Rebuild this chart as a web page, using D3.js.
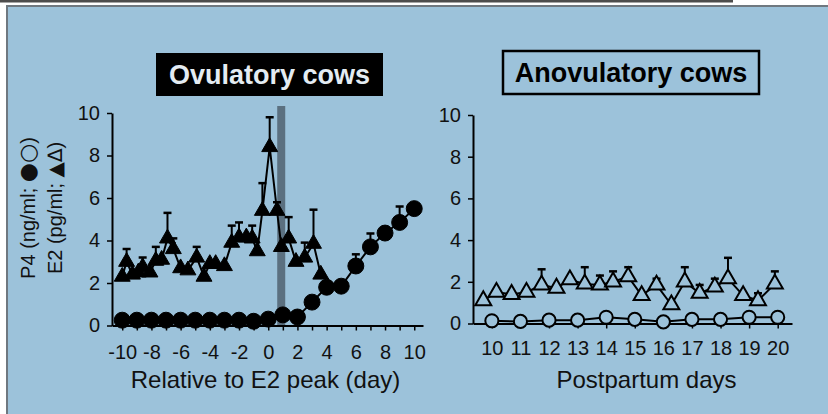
<!DOCTYPE html>
<html>
<head>
<meta charset="utf-8">
<script src="https://cdn.jsdelivr.net/npm/d3@7"></script>
<style>
	body { margin: 0; background: #fff; }
	svg text { font-family: "Liberation Sans", Arial, sans-serif; }
</style>
</head>
<body>
<div class="container"></div>
<script>
// ovulatory cows: P4 (filled circles) and E2 (filled triangles)
var ovuP4Days = [-10, -9, -8, -7, -6, -5, -4, -3, -2, -1, 0, 1, 2, 3, 4, 5, 6, 7, 8, 9, 10];
var ovuP4 = [0.25, 0.25, 0.25, 0.25, 0.25, 0.25, 0.25, 0.25, 0.25, 0.2, 0.3, 0.5, 0.4, 1.1, 1.8, 1.85, 2.8, 3.7, 4.35, 4.85, 5.5];
var ovuP4Err = [null, null, null, null, null, null, null, null, null, null, null, null, null, null, null, null, 3.35, 4.33, null, 5.6, null];

var ovuE2Days = [-10, -9.7, -9.3, -8.9, -8.6, -8.1, -7.7, -7.3, -6.9, -6.5, -6.0, -5.5, -4.9, -4.4, -4.0, -3.6, -3.0, -2.5, -2.0, -1.5, -1.1, -0.75, -0.4, 0.1, 0.6, 0.9, 1.4, 1.9, 2.5, 3.1, 3.6];
var ovuE2 = [2.3, 3.0, 2.4, 2.5, 2.75, 2.5, 3.05, 3.1, 4.1, 3.6, 2.7, 2.6, 3.2, 2.3, 2.9, 2.9, 2.8, 3.9, 4.15, 4.15, 4.1, 3.5, 5.4, 8.4, 5.4, 3.7, 4.1, 3.0, 3.2, 3.85, 2.4];
var ovuE2Err = [null, 3.6, null, null, 3.2, null, 3.7, null, 5.3, 4.1, null, null, 3.7, null, null, null, null, 4.7, 4.85, null, 4.7, null, 6.7, 9.8, 5.8, null, 5.1, null, 3.9, 5.45, null];

var ovulationDay = 0.89;
var ovuTicks = [-10, -9, -8, -7, -6, -5, -4, -3, -2, -1, 0, 1, 2, 3, 4, 5, 6, 7, 8, 9, 10];
var ovuTickLabels = [-10, -8, -6, -4, -2, 0, 2, 4, 6, 8, 10];

// anovulatory cows: P4 (open circles) and E2 (open triangles)
var anoP4Days = [10, 11, 12, 13, 14, 15, 16, 17, 18, 19, 20];
var anoP4 = [0.13, 0.1, 0.16, 0.16, 0.3, 0.2, 0.08, 0.2, 0.2, 0.3, 0.3];

var anoE2Days = [9.7, 10.16, 10.69, 11.21, 11.74, 12.26, 12.73, 13.25, 13.78, 14.24, 14.77, 15.24, 15.76, 16.28, 16.75, 17.27, 17.8, 18.26, 18.79, 19.31, 19.9];
var anoE2 = [1.1, 1.5, 1.4, 1.5, 1.85, 1.7, 2.1, 1.9, 1.85, 2.0, 2.25, 1.35, 1.85, 0.9, 2.0, 1.45, 1.75, 2.15, 1.35, 1.1, 1.9];
var anoE2Err = [null, null, null, null, 2.6, null, null, 2.7, 2.3, 2.5, 2.7, null, 2.15, null, 2.7, 1.85, 2.15, 3.15, null, 1.45, 2.5];

var anoTicks = [10, 11, 12, 13, 14, 15, 16, 17, 18, 19, 20];

var yTicks = [0, 2, 4, 6, 8, 10];

var bg = "#9cc2da";

var svg = d3.select('.container').append("svg")
	.attr("width", 828)
	.attr("height", 414);

// frame of the slide
svg.append("rect").attr("x", 0).attr("y", 0).attr("width", 733).attr("height", 2.5).attr("fill", "#4d4d4d");
svg.append("rect")
	.attr("x", 7).attr("y", 6).attr("width", 830).attr("height", 420)
	.attr("fill", bg)
	.attr("stroke", "#6f7880")
	.attr("stroke-width", 2);

var zip = function (days, vals, errs) {
	return days.map(function (d, i) {
		return {x: d, y: vals[i], e: errs ? errs[i] : null};
	});
};

var panel = function (cfg) {
	var x = d3.scaleLinear().domain(cfg.xDomain).range(cfg.xRange);
	var y = d3.scaleLinear().domain([0, 10]).range(cfg.yRange);
	var g = svg.append("g");

	// title box
	g.append("rect")
		.attr("x", cfg.title.x).attr("y", cfg.title.y)
		.attr("width", cfg.title.w).attr("height", cfg.title.h)
		.attr("fill", cfg.title.fill)
		.attr("stroke", "#000")
		.attr("stroke-width", cfg.title.fill === "#000" ? 0 : 2.5);
	g.append("text")
		.attr("x", cfg.title.x + cfg.title.w / 2)
		.attr("y", cfg.title.y + cfg.title.h / 2 + 9.5)
		.attr("text-anchor", "middle")
		.attr("font-size", 27)
		.attr("font-weight", "bold")
		.attr("fill", cfg.title.color)
		.text(cfg.title.text);

	if (cfg.band != null) {
		g.append("rect")
			.attr("x", x(cfg.band) - 4)
			.attr("y", 106)
			.attr("width", 8)
			.attr("height", y(0) - 106)
			.attr("fill", "#5b7080");
	}

	// axes
	var yAxis = g.append("g")
		.attr("transform", "translate(" + cfg.xRange[0] + ",0)")
		.call(d3.axisLeft(y).tickValues(yTicks).tickSize(5).tickSizeOuter(0).tickPadding(7));
	var xAxis = g.append("g")
		.attr("transform", "translate(0," + y(0) + ")")
		.call(d3.axisBottom(x).tickValues(cfg.ticks).tickSize(5).tickSizeOuter(0).tickPadding(cfg.xPad)
			.tickFormat(function (d) { return cfg.tickLabels.indexOf(d) >= 0 ? d : ""; }));

	[yAxis, xAxis].forEach(function (a) {
		a.attr("font-size", 20);
		a.select(".domain").attr("stroke", "#000").attr("stroke-width", 2);
		a.selectAll(".tick line").attr("stroke", "#000").attr("stroke-width", 1.5);
		a.selectAll(".tick text")
			.attr("fill", "#111")
			.style("font-family", '"Liberation Sans", Arial, sans-serif');
	});

	g.append("text")
		.attr("x", (cfg.xRange[0] + cfg.xRange[1]) / 2 + cfg.labelShift)
		.attr("y", 388)
		.attr("text-anchor", "middle")
		.attr("font-size", 24)
		.attr("fill", "#111")
		.text(cfg.xLabel);

	var line = d3.line()
		.x(function (d) { return x(d.x); })
		.y(function (d) { return y(d.y); });

	cfg.series.forEach(function (s) {
		var data = zip(s.days, s.vals, s.errs);

		g.append("path")
			.datum(data)
			.attr("d", line)
			.attr("fill", "none")
			.attr("stroke", "#000")
			.attr("stroke-width", 2);

		var eb = g.selectAll()
			.data(data.filter(function (d) { return d.e != null; }))
			.enter()
			.append("g");
		eb.append("line")
			.attr("x1", function (d) { return x(d.x); })
			.attr("x2", function (d) { return x(d.x); })
			.attr("y1", function (d) { return y(d.y); })
			.attr("y2", function (d) { return y(d.e); })
			.attr("stroke", "#000")
			.attr("stroke-width", 2);
		eb.append("line")
			.attr("x1", function (d) { return x(d.x) - 4; })
			.attr("x2", function (d) { return x(d.x) + 4; })
			.attr("y1", function (d) { return y(d.e); })
			.attr("y2", function (d) { return y(d.e); })
			.attr("stroke", "#000")
			.attr("stroke-width", 2.5);

		g.selectAll()
			.data(data)
			.enter()
			.append("path")
				.attr("transform", function (d) {
					return "translate(" + x(d.x) + "," + y(d.y) + ")";
				})
				.attr("d", d3.symbol().type(s.shape).size(s.size))
				.attr("fill", s.filled ? "#000" : bg)
				.attr("stroke", "#000")
				.attr("stroke-width", s.filled ? 1 : 2);
	});
};

panel({
	xDomain: [-10.7, 10.6], xRange: [112, 423], yRange: [325.5, 113],
	ticks: ovuTicks, tickLabels: ovuTickLabels, xPad: 14,
	xLabel: "Relative to E2 peak (day)", labelShift: -2,
	band: ovulationDay,
	title: {x: 156, y: 53, w: 227, h: 43, fill: "#000", color: "#e4ecf2", text: "Ovulatory cows"},
	series: [
		{days: ovuP4Days, vals: ovuP4, errs: ovuP4Err, shape: d3.symbolCircle, size: 200, filled: true},
		{days: ovuE2Days, vals: ovuE2, errs: ovuE2Err, shape: d3.symbolTriangle, size: 110, filled: true}
	]
});

panel({
	xDomain: [9.34, 20.5], xRange: [473, 792], yRange: [323.5, 115],
	ticks: anoTicks, tickLabels: anoTicks, xPad: 12,
	xLabel: "Postpartum days", labelShift: 14,
	band: null,
	title: {x: 503, y: 51, w: 256, h: 43, fill: bg, color: "#000", text: "Anovulatory cows"},
	series: [
		{days: anoP4Days, vals: anoP4, errs: null, shape: d3.symbolCircle, size: 135, filled: false},
		{days: anoE2Days, vals: anoE2, errs: anoE2Err, shape: d3.symbolTriangle, size: 110, filled: false}
	]
});

// shared y-axis title, two rotated lines with large marker glyphs
var yTitle = svg.append("g").attr("font-size", 20).attr("fill", "#111");
var t1 = yTitle.append("text")
	.attr("transform", "translate(35,208) rotate(-90)")
	.attr("text-anchor", "middle");
t1.append("tspan").text("P4 (ng/ml; ");
t1.append("tspan").style("font-family", '"DejaVu Sans", sans-serif').attr("font-size", 22).text("●○");
t1.append("tspan").text(")");
var t2 = yTitle.append("text")
	.attr("transform", "translate(62,208) rotate(-90)")
	.attr("text-anchor", "middle");
t2.append("tspan").text("E2 (pg/ml; ");
t2.append("tspan").style("font-family", '"DejaVu Sans", sans-serif').attr("font-size", 20).text("▲∆");
t2.append("tspan").text(")");
</script>
</body>
</html>
